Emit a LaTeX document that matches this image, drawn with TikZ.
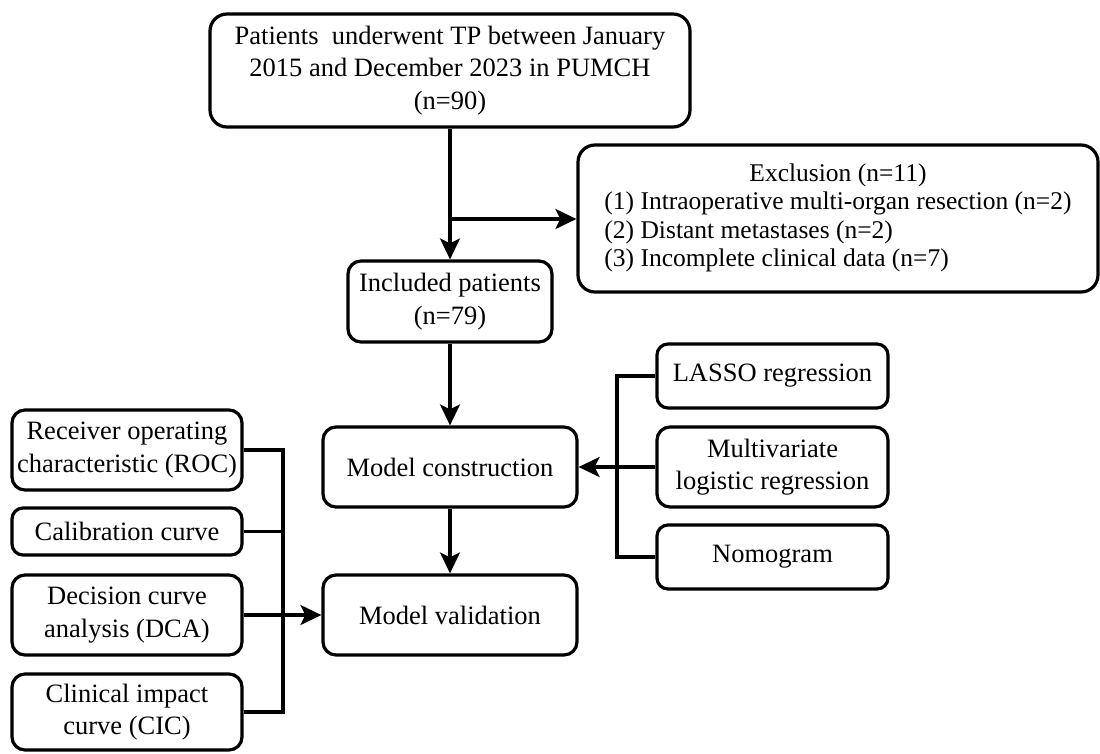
\documentclass[tikz,border=0pt]{standalone}
\usepackage{fontspec}
\setmainfont{Liberation Serif}
\usetikzlibrary{arrows.meta}
\begin{document}
\begin{tikzpicture}[x=1pt,y=-1pt,
  box/.style={draw, line width=3.2pt, rounded corners=13pt, inner sep=0pt, align=center, font=\fontsize{26.5}{32.5}\selectfont},
  bigbox/.style={box, rounded corners=17pt},
  conn/.style={line width=3.2pt},
  arr/.style={conn, -{Stealth[length=21pt,width=20pt,inset=5pt]}}]
\useasboundingbox (0,0) rectangle (1100,753);
\node[bigbox, minimum width=480pt, minimum height=113pt] (top) at (450,70.5)
  {Patients~ underwent TP between January\\2015 and December 2023 in PUMCH\\(n=90)};
\node[bigbox, minimum width=520pt, minimum height=147pt, font=\fontsize{25.5}{28.5}\selectfont] (excl) at (838,218.5)
  {\begin{tabular}{@{}l@{}}\multicolumn{1}{@{}c@{}}{Exclusion (n=11)}\\
  (1) Intraoperative multi-organ resection (n=2)\\
  (2) Distant metastases (n=2)\\
  (3) Incomplete clinical data (n=7)\end{tabular}};
\node[box, minimum width=204pt, minimum height=81pt] (incl) at (450,301.5) {Included patients\\(n=79)};
\node[box, minimum width=254pt, minimum height=80pt] (mc) at (450,467) {Model construction};
\node[box, minimum width=254pt, minimum height=80pt] (mv) at (450,615) {Model validation};
\node[box, rounded corners=11pt, minimum width=231pt, minimum height=64pt] (lasso) at (772.5,376) {LASSO regression};
\node[box, minimum width=231pt, minimum height=80pt] (multi) at (772.5,467) {Multivariate\\logistic regression};
\node[box, rounded corners=11pt, minimum width=231pt, minimum height=64pt] (nomo) at (772.5,557) {Nomogram};
\node[box, minimum width=230pt, minimum height=80pt] (roc) at (127,450) {Receiver operating\\characteristic (ROC)};
\node[box, rounded corners=11pt, minimum width=230pt, minimum height=47pt] (cal) at (127,531.5) {Calibration curve};
\node[box, minimum width=230pt, minimum height=80pt] (dca) at (127,615) {Decision curve\\analysis (DCA)};
\node[box, minimum width=230pt, minimum height=76pt] (cic) at (127,712) {Clinical impact\\curve (CIC)};
\coordinate (br) at (450,219);
\coordinate (lb) at (283,0);
\coordinate (rb) at (617,0);
\draw[arr] (top.south) -- (incl.north);
\draw[arr] (br) -- (br -| excl.west);
\draw[arr] (incl.south) -- (mc.north);
\draw[arr] (mc.south) -- (mv.north);
\draw[conn] (lasso.west) -| (rb |- nomo.west) -- (nomo.west);
\draw[arr] (multi.west) -- (mc.east);
\draw[conn] (roc.east) -| (lb |- cic.east) -- (cic.east);
\draw[conn] (cal.east) -- (cal.east -| lb);
\draw[arr] (dca.east) -- (mv.west);
\end{tikzpicture}
\end{document}
